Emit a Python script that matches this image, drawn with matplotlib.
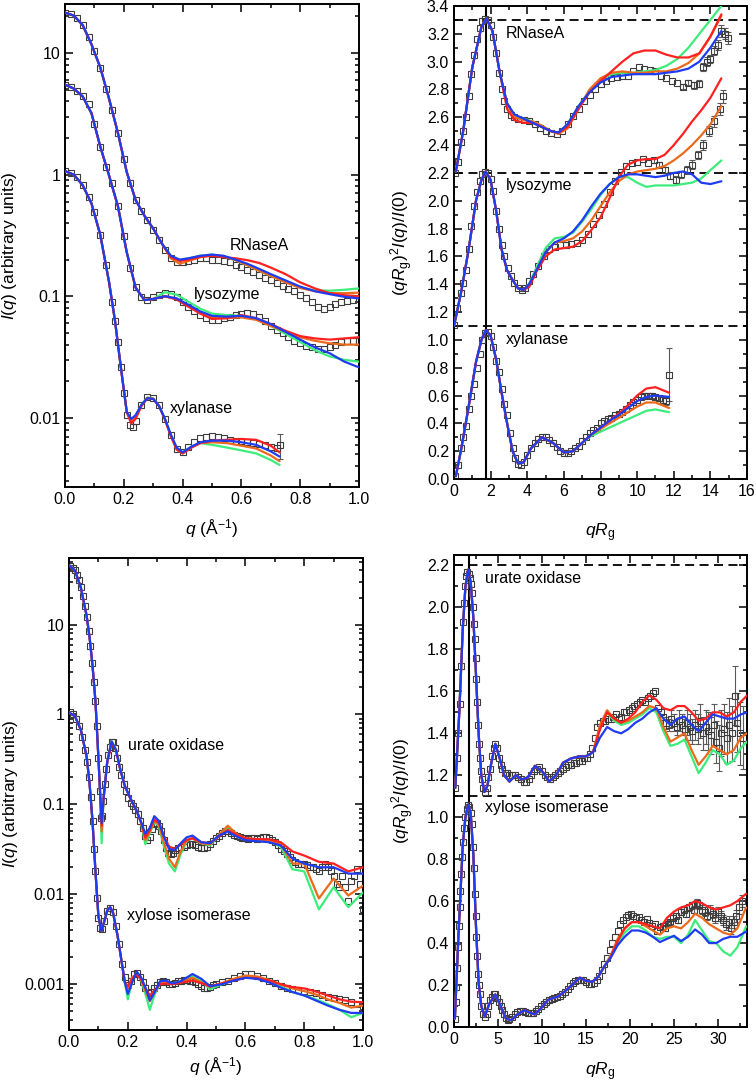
import numpy as np
import matplotlib
matplotlib.use('Agg')
import matplotlib.pyplot as plt
from matplotlib.ticker import MultipleLocator, LogLocator, NullFormatter, FuncFormatter

plt.rcParams['font.family'] = ['Liberation Sans', 'DejaVu Sans']
plt.rcParams['mathtext.fontset'] = 'custom'
plt.rcParams['mathtext.rm'] = 'Liberation Sans'
plt.rcParams['mathtext.it'] = 'Liberation Sans:italic'
plt.rcParams['mathtext.bf'] = 'Liberation Sans:bold'

COLORS = {'green': '#3dec7b', 'orange': '#ec6a1c', 'red': '#ff2020', 'blue': '#1f3cf2'}
ORDER = ['green', 'orange', 'red', 'blue']
DATA_EDGE = '#3c3c3c'

# ---------------- top left: I(q), RNaseA / lysozyme / xylanase ----------------
tl_q = [0.00, 0.02, 0.04, 0.06, 0.08, 0.10, 0.12, 0.14, 0.16, 0.18, 0.20, 0.22, 0.24,
        0.26, 0.28, 0.30, 0.32, 0.34, 0.36, 0.38, 0.40, 0.42, 0.44, 0.46, 0.48, 0.50,
        0.52, 0.54, 0.56, 0.58, 0.60, 0.62, 0.64, 0.66, 0.68, 0.70, 0.72, 0.74, 0.76,
        0.78, 0.80, 0.82, 0.84, 0.86, 0.88, 0.90, 0.92, 0.94, 0.96, 0.98, 1.00]
tl_rn_I = [21.5, 21.0, 19.5, 17.0, 13.5, 10.3, 7.6, 5.1, 3.4, 2.2, 1.35, 0.85, 0.62,
           0.50, 0.42, 0.35, 0.29, 0.24, 0.205, 0.19, 0.19, 0.195, 0.20, 0.205, 0.205, 0.20,
           0.20, 0.195, 0.19, 0.182, 0.175, 0.165, 0.158, 0.15, 0.142, 0.135, 0.128, 0.122, 0.115,
           0.11, 0.103, 0.096, 0.09, 0.082, 0.078, 0.082, 0.087, 0.09, 0.092, 0.094, 0.095]
tl_ly_I = [5.5, 5.3, 4.9, 4.4, 3.8, 2.6, 1.7, 1.15, 0.85, 0.55, 0.31, 0.17, 0.118,
           0.098, 0.094, 0.098, 0.103, 0.106, 0.105, 0.098, 0.09, 0.082, 0.076, 0.07, 0.066, 0.064,
           0.064, 0.066, 0.068, 0.07, 0.072, 0.073, 0.071, 0.067, 0.062, 0.057, 0.053, 0.05, 0.046,
           0.043, 0.041, 0.039, 0.038, 0.037, 0.037, 0.038, 0.04, 0.042, 0.043, 0.043, 0.043]
tl_xy_q = [0.00, 0.02, 0.04, 0.06, 0.08, 0.10, 0.12, 0.14, 0.16, 0.17, 0.18, 0.19, 0.20,
           0.21, 0.22, 0.23, 0.24, 0.26, 0.28, 0.30, 0.32, 0.34, 0.36, 0.38, 0.40, 0.42,
           0.44, 0.46, 0.48, 0.50, 0.52, 0.54, 0.56, 0.58, 0.60, 0.62, 0.64, 0.66, 0.68,
           0.70, 0.72, 0.73]
tl_xy_I = [1.07, 1.03, 0.95, 0.82, 0.66, 0.49, 0.32, 0.18, 0.09, 0.063, 0.042, 0.026, 0.016,
           0.0105, 0.0087, 0.0084, 0.0095, 0.0128, 0.0148, 0.0145, 0.0128, 0.0098, 0.0072, 0.0055,
           0.0052, 0.0058, 0.0063, 0.0068, 0.007, 0.0071, 0.007, 0.0068, 0.0066, 0.0065, 0.0064,
           0.0063, 0.0062, 0.0061, 0.006, 0.0058, 0.0056, 0.0060]
tl_xy_err_tail = [0.0014]

tl_rn_fq = [0, 0.03, 0.06, 0.09, 0.12, 0.15, 0.18, 0.21, 0.24, 0.27, 0.30, 0.33, 0.36, 0.39,
            0.42, 0.46, 0.50, 0.54, 0.58, 0.62, 0.66, 0.70, 0.75, 0.80, 0.85, 0.90, 0.95, 1.00]
tl_rn_head = [21.5, 20.3, 17.0, 11.8, 7.6, 4.2, 2.2, 1.05, 0.62, 0.46, 0.36, 0.27]
tl_rn_tail = {
    'blue': [0.215, 0.2, 0.205, 0.215, 0.22, 0.215, 0.20, 0.185, 0.168, 0.152, 0.135, 0.12, 0.11, 0.104, 0.099, 0.096],
    'red': [0.21, 0.195, 0.2, 0.21, 0.215, 0.21, 0.205, 0.198, 0.188, 0.172, 0.152, 0.13, 0.116, 0.106, 0.102, 0.10],
    'green': [0.215, 0.198, 0.205, 0.215, 0.22, 0.213, 0.198, 0.18, 0.162, 0.147, 0.132, 0.118, 0.112, 0.111, 0.113, 0.116],
    'orange': [0.205, 0.185, 0.195, 0.21, 0.218, 0.213, 0.198, 0.18, 0.162, 0.147, 0.13, 0.117, 0.11, 0.106, 0.106, 0.107],
}
tl_ly_fq = [0, 0.03, 0.06, 0.09, 0.12, 0.15, 0.18, 0.21, 0.24, 0.27, 0.30, 0.34, 0.38, 0.42,
            0.46, 0.50, 0.55, 0.60, 0.65, 0.70, 0.75, 0.80, 0.85, 0.90, 0.95, 1.00]
tl_ly_head = [5.5, 5.1, 4.4, 3.2, 1.7, 0.98, 0.55, 0.23, 0.118, 0.093, 0.095]
tl_ly_tail = {
    'blue': [0.10, 0.096, 0.085, 0.075, 0.069, 0.068, 0.069, 0.066, 0.059, 0.051, 0.044, 0.038, 0.034, 0.029, 0.026],
    'red': [0.10, 0.094, 0.082, 0.072, 0.065, 0.066, 0.07, 0.066, 0.059, 0.052, 0.047, 0.045, 0.044, 0.045, 0.046],
    'green': [0.108, 0.103, 0.09, 0.079, 0.072, 0.07, 0.069, 0.065, 0.057, 0.049, 0.042, 0.036, 0.032, 0.03, 0.029],
    'orange': [0.10, 0.095, 0.084, 0.074, 0.067, 0.066, 0.067, 0.064, 0.057, 0.051, 0.046, 0.043, 0.041, 0.04, 0.040],
}
tl_xy_fq = [0, 0.03, 0.06, 0.09, 0.12, 0.15, 0.17, 0.19, 0.21, 0.225, 0.24, 0.26, 0.28, 0.30,
            0.32, 0.34, 0.36, 0.38, 0.40, 0.43, 0.46, 0.50, 0.55, 0.60, 0.65, 0.70, 0.73]
tl_xy_head = [1.07, 1.0, 0.82, 0.58, 0.32, 0.13, 0.063, 0.026, 0.0112]
tl_xy_tail = {
    'blue': [0.0098, 0.0105, 0.0128, 0.0145, 0.0143, 0.0125, 0.0098, 0.0073, 0.0057, 0.0052, 0.0058, 0.0063, 0.0065, 0.0065, 0.0063, 0.006, 0.0053, 0.0048],
    'red': [0.009, 0.0098, 0.0125, 0.0145, 0.0143, 0.0125, 0.0097, 0.0071, 0.0055, 0.0051, 0.0057, 0.0062, 0.0065, 0.0066, 0.0067, 0.0066, 0.0059, 0.0052],
    'orange': [0.0094, 0.0102, 0.0127, 0.0146, 0.0144, 0.0125, 0.0097, 0.0071, 0.0055, 0.0051, 0.0057, 0.0062, 0.0063, 0.0062, 0.0059, 0.0056, 0.0049, 0.0044],
    'green': [0.0096, 0.0104, 0.0128, 0.0147, 0.0145, 0.0126, 0.0098, 0.0072, 0.0056, 0.0052, 0.0058, 0.0062, 0.006, 0.0057, 0.0054, 0.0051, 0.0045, 0.0041],
}

# ---------------- top right: Kratky, offsets 2.2 / 1.1 / 0 ----------------
tr_offsets = {'rn': 2.2, 'ly': 1.1, 'xy': 0.0}
tr_rn_x = [0.07, 0.2, 0.36, 0.5, 0.65, 0.8, 0.95, 1.1, 1.25, 1.4, 1.55, 1.7, 1.85, 2.0, 2.15, 2.3,
           2.45, 2.6, 2.75, 2.9, 3.1, 3.3, 3.5, 3.8, 4.1, 4.4, 4.7, 5.0, 5.3, 5.6, 5.9, 6.2, 6.5,
           6.8, 7.1, 7.4, 7.7, 8.0, 8.3, 8.6, 8.9, 9.2, 9.5, 9.8, 10.1, 10.4, 10.7, 11.0, 11.3,
           11.6, 11.9, 12.2, 12.5, 12.8, 13.1, 13.4, 13.6, 13.8, 14.0, 14.2, 14.4, 14.6, 14.8, 14.95]
tr_rn_y = [0.0, 0.08, 0.22, 0.3, 0.4, 0.55, 0.71, 0.85, 0.96, 1.04, 1.09, 1.11, 1.1, 1.06, 0.98, 0.86,
           0.72, 0.6, 0.52, 0.46, 0.42, 0.4, 0.39, 0.38, 0.37, 0.35, 0.32, 0.3, 0.29, 0.28, 0.3, 0.35, 0.41,
           0.46, 0.52, 0.56, 0.6, 0.64, 0.66, 0.68, 0.69, 0.70, 0.70, 0.73, 0.76, 0.75, 0.74, 0.73, 0.70,
           0.68, 0.66, 0.65, 0.62, 0.65, 0.63, 0.64, 0.76, 0.80, 0.82, 0.88, 0.92, 1.02, 1.0, 0.97]
tr_rn_err_tail = [0.02, 0.02, 0.025, 0.025, 0.03, 0.03, 0.03, 0.035, 0.035, 0.04, 0.04, 0.04]
tr_ly_x = [0.0, 0.18, 0.36, 0.5, 0.65, 0.8, 0.95, 1.1, 1.25, 1.4, 1.55, 1.71, 1.85, 2.0, 2.15, 2.3,
           2.45, 2.6, 2.75, 2.95, 3.1, 3.3, 3.5, 3.7, 3.9, 4.1, 4.3, 4.6, 4.9, 5.2, 5.5, 5.8, 6.1,
           6.4, 6.7, 7.0, 7.3, 7.6, 7.9, 8.2, 8.5, 8.8, 9.1, 9.4, 9.7, 10.0, 10.3, 10.6, 10.9, 11.2,
           11.5, 11.8, 12.1, 12.4, 12.7, 13.0, 13.3, 13.6, 13.9, 14.2, 14.5, 14.7]
tr_ly_y = [0.007, 0.127, 0.235, 0.31, 0.4, 0.55, 0.72, 0.86, 0.96, 1.04, 1.09, 1.11, 1.1, 1.06, 0.97, 0.83,
           0.7, 0.58, 0.5, 0.42, 0.36, 0.31, 0.27, 0.26, 0.27, 0.32, 0.37, 0.43, 0.5, 0.55, 0.57, 0.58, 0.58,
           0.59, 0.6, 0.62, 0.66, 0.73, 0.8, 0.88, 0.96, 1.04, 1.11, 1.15, 1.17, 1.18, 1.2, 1.17, 1.19, 1.16,
           1.12, 1.08, 1.05, 1.09, 1.12, 1.16, 1.23, 1.3, 1.4, 1.47, 1.56, 1.65]
tr_ly_err_tail = [0.02, 0.02, 0.02, 0.025, 0.025, 0.025, 0.03, 0.03, 0.03, 0.035, 0.035, 0.04, 0.04, 0.045]
tr_xy_x = [0.05, 0.2, 0.36, 0.5, 0.65, 0.8, 0.95, 1.1, 1.25, 1.4, 1.55, 1.7, 1.85, 2.0, 2.15, 2.3,
           2.45, 2.6, 2.75, 2.9, 3.05, 3.2, 3.35, 3.5, 3.65, 3.8, 4.0, 4.2, 4.4, 4.6, 4.8, 5.0, 5.2,
           5.4, 5.6, 5.8, 6.0, 6.2, 6.4, 6.6, 6.8, 7.0, 7.2, 7.4, 7.6, 7.8, 8.0, 8.2, 8.4, 8.6, 8.8,
           9.0, 9.2, 9.4, 9.6, 9.8, 10.0, 10.2, 10.4, 10.6, 10.8, 11.0, 11.2, 11.4, 11.6, 11.75]
tr_xy_y = [0.02, 0.1, 0.22, 0.3, 0.38, 0.5, 0.6, 0.68, 0.8, 0.9, 1.0, 1.05, 1.06, 1.03, 0.95, 0.85,
           0.77, 0.65, 0.54, 0.46, 0.33, 0.22, 0.15, 0.11, 0.1, 0.12, 0.17, 0.22, 0.26, 0.29, 0.3, 0.3, 0.28,
           0.26, 0.23, 0.2, 0.19, 0.19, 0.2, 0.22, 0.24, 0.27, 0.3, 0.33, 0.35, 0.37, 0.4, 0.42, 0.43, 0.44,
           0.46, 0.47, 0.48, 0.5, 0.53, 0.55, 0.57, 0.59, 0.6, 0.6, 0.6, 0.59, 0.58, 0.57, 0.56, 0.75]
tr_xy_err_tail = [0.015, 0.015, 0.02, 0.02, 0.02, 0.025, 0.03, 0.19]

tr_rn_fx = [0.1, 0.5, 1.0, 1.5, 1.77, 2.1, 2.5, 2.9, 3.3, 3.8, 4.3, 4.8, 5.3, 5.7, 6.2, 6.8, 7.4,
            8.0, 8.6, 9.2, 9.8, 10.4, 11.0, 11.6, 12.2, 12.8, 13.4, 14.0, 14.6]
tr_rn_head = [0.01, 0.3, 0.76, 1.05, 1.11, 1.02, 0.72]
tr_rn_tail = {
    'blue': [0.5, 0.42, 0.39, 0.36, 0.33, 0.30, 0.29, 0.35, 0.48, 0.58, 0.65, 0.69, 0.70, 0.71, 0.71, 0.71, 0.72, 0.73, 0.75, 0.8, 0.9, 1.02],
    'red': [0.46, 0.38, 0.36, 0.36, 0.33, 0.30, 0.29, 0.33, 0.46, 0.58, 0.66, 0.73, 0.80, 0.86, 0.88, 0.88, 0.85, 0.83, 0.83, 0.86, 0.98, 1.14],
    'green': [0.5, 0.41, 0.39, 0.37, 0.33, 0.30, 0.29, 0.35, 0.48, 0.59, 0.67, 0.71, 0.72, 0.72, 0.73, 0.74, 0.77, 0.82, 0.90, 1.0, 1.1, 1.2],
    'orange': [0.5, 0.40, 0.38, 0.37, 0.34, 0.30, 0.28, 0.32, 0.46, 0.60, 0.68, 0.72, 0.73, 0.72, 0.72, 0.73, 0.73, 0.75, 0.79, 0.86, 0.98, 1.13],
}
tr_ly_fx = [0, 0.4, 0.8, 1.2, 1.5, 1.73, 2.0, 2.3, 2.6, 2.9, 3.2, 3.5, 3.8, 4.1, 4.5, 5.0, 5.5, 6.0,
            6.5, 7.0, 7.5, 8.0, 8.5, 9.0, 9.5, 10.0, 10.5, 11.0, 11.5, 12.0, 12.5, 13.0, 13.5, 14.0, 14.6]
tr_ly_head = [0.0, 0.25, 0.55, 0.9, 1.05, 1.11, 1.05, 0.83, 0.55, 0.4, 0.33, 0.27, 0.26]
tr_ly_tail = {
    'blue': [0.3, 0.4, 0.53, 0.6, 0.63, 0.68, 0.76, 0.86, 0.95, 1.02, 1.07, 1.09, 1.09, 1.08, 1.07, 1.08, 1.1, 1.11, 1.09, 1.03, 1.02, 1.04],
    'green': [0.3, 0.42, 0.56, 0.63, 0.64, 0.67, 0.75, 0.84, 0.94, 1.02, 1.07, 1.07, 1.03, 1.0, 1.01, 1.01, 1.01, 1.02, 1.03, 1.06, 1.12, 1.19],
    'orange': [0.29, 0.4, 0.53, 0.6, 0.61, 0.63, 0.68, 0.76, 0.86, 0.96, 1.04, 1.09, 1.11, 1.12, 1.13, 1.15, 1.19, 1.24, 1.3, 1.37, 1.45, 1.58],
    'red': [0.28, 0.39, 0.5, 0.55, 0.56, 0.57, 0.61, 0.69, 0.78, 0.92, 1.07, 1.16, 1.19, 1.2, 1.2, 1.23, 1.3, 1.38, 1.47, 1.55, 1.64, 1.78],
}
tr_xy_fx = [0.1, 0.4, 0.8, 1.2, 1.5, 1.73, 2.0, 2.3, 2.6, 2.9, 3.2, 3.5, 3.8, 4.2, 4.8, 5.4, 6.0,
            6.5, 7.0, 7.5, 8.0, 8.5, 9.0, 9.5, 10.0, 10.5, 11.0, 11.75]
tr_xy_head = [0.02, 0.22, 0.52, 0.84, 1.0, 1.07, 1.03, 0.86, 0.62, 0.4, 0.2, 0.11, 0.12, 0.22, 0.3,
              0.26, 0.19, 0.2, 0.26]
tr_xy_tail = {
    'blue': [0.32, 0.37, 0.42, 0.46, 0.51, 0.56, 0.59, 0.6, 0.59],
    'red': [0.32, 0.37, 0.42, 0.47, 0.53, 0.6, 0.65, 0.66, 0.62],
    'orange': [0.32, 0.36, 0.4, 0.44, 0.48, 0.52, 0.55, 0.55, 0.51],
    'green': [0.31, 0.34, 0.37, 0.4, 0.43, 0.46, 0.49, 0.5, 0.48],
}

# ---------------- bottom left: I(q), urate oxidase / xylose isomerase ----------------
bl_uo_q = [0.005, 0.012, 0.019, 0.026, 0.033, 0.04, 0.047, 0.054, 0.061, 0.067, 0.073, 0.079, 0.085,
           0.09, 0.095, 0.1, 0.104, 0.108, 0.112, 0.116, 0.121, 0.127, 0.133, 0.139, 0.145, 0.151,
           0.157, 0.164, 0.171, 0.178, 0.186, 0.194, 0.202, 0.21, 0.218, 0.226, 0.234, 0.242, 0.25,
           0.258, 0.266, 0.274, 0.282, 0.29, 0.298, 0.306, 0.314, 0.322, 0.33, 0.338, 0.346, 0.354,
           0.362, 0.37, 0.38, 0.39, 0.40, 0.41, 0.42, 0.43, 0.44, 0.45, 0.46, 0.47, 0.48, 0.49, 0.50,
           0.51, 0.52, 0.53, 0.54, 0.55, 0.56, 0.57, 0.58, 0.59, 0.60, 0.61, 0.62, 0.63, 0.64, 0.65,
           0.66, 0.67, 0.68, 0.69, 0.70, 0.71, 0.72, 0.73, 0.74, 0.75, 0.76, 0.77, 0.78, 0.79, 0.80,
           0.81, 0.82, 0.83, 0.84, 0.85, 0.86, 0.87, 0.88, 0.89, 0.90, 0.91, 0.92, 0.93, 0.94, 0.95,
           0.96, 0.97, 0.98, 0.99, 1.00]
bl_uo_I = [45, 43, 40, 36, 31, 26, 21, 16, 12, 8.5, 5.8, 3.7, 2.3,
           1.4, 0.75, 0.33, 0.14, 0.07, 0.075, 0.11, 0.17, 0.25, 0.35, 0.44, 0.5, 0.49,
           0.42, 0.33, 0.26, 0.21, 0.17, 0.14, 0.118, 0.105, 0.095, 0.087, 0.078, 0.066, 0.054,
           0.044, 0.04, 0.043, 0.053, 0.06, 0.062, 0.058, 0.05, 0.04, 0.033, 0.029, 0.028, 0.029,
           0.031, 0.033, 0.034, 0.034, 0.035, 0.036, 0.036, 0.035, 0.034, 0.033, 0.033, 0.034, 0.036, 0.039, 0.042,
           0.045, 0.048, 0.05, 0.05, 0.048, 0.046, 0.044, 0.043, 0.042, 0.042, 0.041, 0.042, 0.042, 0.041, 0.042,
           0.043, 0.043, 0.042, 0.04, 0.038, 0.035, 0.032, 0.03, 0.028, 0.026, 0.024, 0.023, 0.022, 0.022, 0.022,
           0.021, 0.02, 0.02, 0.019, 0.018, 0.02, 0.022, 0.02, 0.018, 0.016, 0.013, 0.012, 0.016, 0.012, 0.0085,
           0.014, 0.016, 0.019, 0.013, 0.0068]
bl_xi_q = [0.005, 0.015, 0.025, 0.035, 0.045, 0.055, 0.062, 0.068, 0.074, 0.08, 0.086, 0.09, 0.095,
           0.1, 0.106, 0.112, 0.12, 0.13, 0.14, 0.15, 0.16, 0.17, 0.18, 0.19, 0.2, 0.21, 0.22, 0.23,
           0.24, 0.25, 0.26, 0.27, 0.28, 0.29, 0.30, 0.31, 0.32, 0.33, 0.34, 0.35, 0.36, 0.37, 0.38,
           0.39, 0.40, 0.41, 0.42, 0.43, 0.44, 0.45, 0.46, 0.47, 0.48, 0.49, 0.50, 0.52, 0.54, 0.56,
           0.58, 0.60, 0.62, 0.64, 0.66, 0.68, 0.70, 0.72, 0.74, 0.76, 0.78, 0.80, 0.82, 0.84, 0.86,
           0.88, 0.90, 0.92, 0.94, 0.96, 0.98, 1.00]
bl_xi_I = [1.06, 1.0, 0.9, 0.74, 0.56, 0.4, 0.3, 0.2, 0.12, 0.065, 0.032, 0.018, 0.009,
           0.0055, 0.0042, 0.0041, 0.005, 0.0065, 0.0071, 0.0063, 0.0045, 0.0028, 0.0017, 0.0012, 0.00098, 0.0011, 0.0013, 0.00135,
           0.0012, 0.00105, 0.0009, 0.0008, 0.00082, 0.0009, 0.00098, 0.00105, 0.0011, 0.00105, 0.001, 0.001, 0.00102, 0.00108, 0.0011,
           0.00112, 0.00112, 0.0011, 0.00108, 0.00105, 0.001, 0.00096, 0.00092, 0.00092, 0.00093, 0.00097, 0.001, 0.00105, 0.0011, 0.00118,
           0.00125, 0.0013, 0.0013, 0.00125, 0.00118, 0.0011, 0.00102, 0.00095, 0.0009, 0.00088, 0.00087, 0.00085, 0.00082, 0.0008, 0.00076,
           0.00073, 0.0007, 0.00068, 0.00066, 0.00063, 0.00061, 0.00058]

bl_uo_fq = [0.0, 0.02, 0.04, 0.06, 0.07, 0.08, 0.09, 0.1, 0.106, 0.111, 0.118, 0.13, 0.145, 0.16,
            0.175, 0.19, 0.21, 0.23, 0.245, 0.26, 0.275, 0.29, 0.305, 0.32, 0.34, 0.36, 0.38, 0.40,
            0.42, 0.45, 0.48, 0.51, 0.54, 0.57, 0.60, 0.64, 0.68, 0.72, 0.76, 0.80, 0.85, 0.90, 0.95, 1.0]
bl_uo_head = [46, 40, 26, 12.5, 7.2, 3.5, 1.4, 0.33, 0.13]
bl_uo_tail = {
    'blue': [0.062, 0.12, 0.3, 0.5, 0.4, 0.24, 0.16, 0.115, 0.085, 0.064, 0.047, 0.055, 0.074, 0.066, 0.046, 0.032, 0.031, 0.037,
             0.043, 0.045, 0.038, 0.037, 0.045, 0.05, 0.044, 0.04, 0.039, 0.038, 0.035, 0.025, 0.022, 0.02, 0.02, 0.017, 0.017],
    'red': [0.058, 0.12, 0.29, 0.48, 0.4, 0.24, 0.16, 0.113, 0.085, 0.063, 0.043, 0.052, 0.068, 0.063, 0.047, 0.034, 0.032, 0.036,
            0.04, 0.042, 0.038, 0.037, 0.044, 0.052, 0.046, 0.042, 0.041, 0.041, 0.038, 0.03, 0.027, 0.023, 0.022, 0.018, 0.02],
    'orange': [0.05, 0.12, 0.3, 0.5, 0.4, 0.24, 0.16, 0.115, 0.085, 0.063, 0.04, 0.05, 0.065, 0.06, 0.04, 0.025, 0.02, 0.03,
               0.04, 0.042, 0.037, 0.036, 0.046, 0.058, 0.047, 0.042, 0.041, 0.04, 0.036, 0.022, 0.022, 0.009, 0.015, 0.0097, 0.0125],
    'green': [0.037, 0.12, 0.3, 0.51, 0.41, 0.24, 0.16, 0.115, 0.085, 0.063, 0.036, 0.048, 0.063, 0.058, 0.037, 0.022, 0.018, 0.028,
              0.039, 0.042, 0.037, 0.035, 0.045, 0.056, 0.046, 0.041, 0.04, 0.039, 0.034, 0.019, 0.018, 0.0068, 0.012, 0.0072, 0.0105],
}
bl_xi_fq = [0, 0.02, 0.04, 0.06, 0.07, 0.08, 0.09, 0.1, 0.11, 0.12, 0.13, 0.14, 0.15, 0.165, 0.18, 0.19,
            0.2, 0.215, 0.23, 0.245, 0.26, 0.275, 0.29, 0.31, 0.33, 0.35, 0.38, 0.42, 0.45, 0.48, 0.52,
            0.56, 0.60, 0.64, 0.68, 0.72, 0.76, 0.80, 0.84, 0.88, 0.92, 0.96, 1.0]
bl_xi_head = [1.05, 0.96, 0.68, 0.34, 0.17, 0.065, 0.018, 0.0057, 0.0039, 0.005, 0.0066, 0.0072, 0.0062,
              0.0035, 0.0017, 0.00105]
bl_xi_tail = {
    'blue': [0.00078, 0.00105, 0.00138, 0.0012, 0.00092, 0.00066, 0.0008, 0.00108, 0.0011, 0.00102, 0.00108, 0.0013, 0.00115, 0.00095,
             0.001, 0.0011, 0.00118, 0.00115, 0.00105, 0.00092, 0.00082, 0.00075, 0.00066, 0.00058, 0.00052, 0.00048, 0.00048],
    'red': [0.00095, 0.00115, 0.0013, 0.00115, 0.0009, 0.00075, 0.00085, 0.001, 0.00102, 0.001, 0.00104, 0.0011, 0.00103, 0.00095,
            0.00102, 0.0011, 0.00118, 0.00117, 0.0011, 0.001, 0.00093, 0.0009, 0.00083, 0.00075, 0.00068, 0.00064, 0.00063],
    'orange': [0.0009, 0.0012, 0.0013, 0.00112, 0.00085, 0.00065, 0.0008, 0.00103, 0.00105, 0.001, 0.00106, 0.00118, 0.00105, 0.00093,
               0.00103, 0.00115, 0.00125, 0.00122, 0.00112, 0.001, 0.0009, 0.00084, 0.00077, 0.00068, 0.00062, 0.00055, 0.00058],
    'green': [0.00068, 0.0011, 0.00135, 0.00112, 0.00078, 0.00052, 0.00075, 0.00105, 0.00108, 0.00102, 0.00108, 0.00125, 0.0011, 0.00088,
              0.001, 0.00112, 0.0012, 0.00118, 0.00108, 0.00095, 0.00082, 0.00075, 0.00068, 0.0006, 0.00052, 0.00043, 0.00048],
}

# ---------------- bottom right: Kratky, offsets 1.1 / 0 ----------------
br_offsets = {'uo': 1.1, 'xi': 0.0}
br_uo_x = [0.15, 0.3, 0.45, 0.64, 0.83, 1.02, 1.15, 1.29, 1.4, 1.52, 1.65, 1.77, 1.89, 2.0, 2.16, 2.26,
           2.35, 2.45, 2.54, 2.63, 2.73, 2.82, 2.92, 3.05, 3.18, 3.33, 3.48, 3.7, 3.9, 4.05, 4.3, 4.5,
           4.7, 4.9, 5.1, 5.3, 5.5, 5.76, 6.0, 6.3, 6.6, 6.9, 7.27, 7.6, 7.9, 8.2, 8.5, 8.8, 9.1, 9.4,
           9.7, 10.0, 10.3, 10.6, 10.9, 11.2, 11.5, 11.8, 12.1, 12.4, 12.7, 13.0, 13.3, 13.6, 13.9, 14.2,
           14.5, 14.8, 15.1, 15.4, 15.7, 16.0, 16.3, 16.6, 16.9, 17.2, 17.5, 17.8, 18.1, 18.4, 18.7, 19.0,
           19.3, 19.6, 19.9, 20.2, 20.5, 20.8, 21.1, 21.4, 21.7, 22.0, 22.3, 22.6, 22.9, 23.2, 23.5, 23.8,
           24.1, 24.4, 24.7, 25.0, 25.3, 25.6, 25.9, 26.2, 26.5, 26.8, 27.1, 27.4, 27.7, 28.0, 28.3, 28.6,
           28.9, 29.2, 29.5, 29.8, 30.1, 30.4, 30.7, 31.0, 31.3, 31.6, 31.9, 32.2, 32.5, 32.8]
br_uo_y = [0.04, 0.18, 0.3, 0.44, 0.62, 0.83, 0.92, 1.0, 1.05, 1.07, 1.06, 1.04, 1.01, 0.97, 0.9, 0.82,
           0.75, 0.66, 0.56, 0.45, 0.34, 0.25, 0.18, 0.12, 0.08, 0.04, 0.02, 0.04, 0.09, 0.13, 0.19, 0.23,
           0.25, 0.23, 0.18, 0.15, 0.13, 0.11, 0.11, 0.1, 0.1, 0.1, 0.09, 0.08, 0.07, 0.07, 0.08, 0.1, 0.12, 0.13,
           0.14, 0.12, 0.1, 0.09, 0.08, 0.09, 0.1, 0.11, 0.12, 0.13, 0.14, 0.15, 0.15, 0.16, 0.16, 0.17,
           0.17, 0.18, 0.18, 0.2, 0.23, 0.28, 0.33, 0.35, 0.36, 0.36, 0.37, 0.37, 0.38, 0.39, 0.37, 0.38,
           0.4, 0.4, 0.41, 0.42, 0.43, 0.44, 0.45, 0.46, 0.45, 0.47, 0.48, 0.49, 0.5, 0.42, 0.4, 0.38,
           0.35, 0.34, 0.37, 0.35, 0.33, 0.36, 0.34, 0.32, 0.35, 0.33, 0.31, 0.34, 0.32, 0.36, 0.3, 0.33,
           0.31, 0.29, 0.34, 0.26, 0.23, 0.3, 0.32, 0.28, 0.34, 0.3, 0.48, 0.35, 0.3, 0.28]
br_uo_err_tail = [0.03, 0.03, 0.04, 0.04, 0.04, 0.05, 0.05, 0.05, 0.06, 0.06, 0.06, 0.07, 0.07, 0.08, 0.08,
                  0.08, 0.09, 0.09, 0.1, 0.1, 0.11, 0.11, 0.12, 0.12, 0.13, 0.13, 0.14, 0.14, 0.15, 0.15]
br_xi_x = [0.08, 0.18, 0.27, 0.36, 0.45, 0.55, 0.64, 0.73, 0.83, 0.92, 1.02, 1.15, 1.29, 1.45, 1.59, 1.75,
           1.89, 2.0, 2.16, 2.25, 2.35, 2.45, 2.54, 2.63, 2.73, 2.82, 2.92, 3.1, 3.3, 3.5, 3.7, 3.9, 4.1,
           4.3, 4.5, 4.7, 4.9, 5.1, 5.3, 5.5, 5.7, 5.9, 6.1, 6.3, 6.6, 6.9, 7.2, 7.5, 7.8, 8.1, 8.4, 8.7,
           9.0, 9.3, 9.6, 9.9, 10.2, 10.5, 10.8, 11.1, 11.4, 11.7, 12.0, 12.3, 12.6, 12.9, 13.2, 13.5, 13.8,
           14.1, 14.4, 14.7, 15.0, 15.3, 15.6, 15.9, 16.2, 16.5, 16.8, 17.1, 17.4, 17.7, 18.0, 18.3, 18.6,
           18.9, 19.2, 19.5, 19.8, 20.1, 20.4, 20.7, 21.0, 21.3, 21.6, 21.9, 22.2, 22.5, 22.8, 23.1, 23.4,
           23.7, 24.0, 24.3, 24.6, 24.9, 25.2, 25.5, 25.8, 26.1, 26.4, 26.7, 27.0, 27.3, 27.6, 27.9, 28.2,
           28.5, 28.8, 29.1, 29.4, 29.7, 30.0, 30.3, 30.6, 30.9, 31.2, 31.5, 31.8, 32.1, 32.4, 32.7]
br_xi_y = [0.04, 0.12, 0.19, 0.28, 0.38, 0.48, 0.57, 0.65, 0.73, 0.81, 0.88, 0.95, 1.0, 1.04, 1.056, 1.05,
           1.02, 0.97, 0.86, 0.76, 0.635, 0.53, 0.43, 0.34, 0.254, 0.2, 0.159, 0.1, 0.064, 0.05, 0.06, 0.1, 0.13,
           0.145, 0.155, 0.155, 0.14, 0.12, 0.1, 0.08, 0.06, 0.045, 0.035, 0.04, 0.05, 0.06, 0.07, 0.075, 0.075, 0.072, 0.068, 0.065,
           0.068, 0.075, 0.088, 0.1, 0.11, 0.12, 0.128, 0.132, 0.138, 0.143, 0.148, 0.155, 0.165, 0.18, 0.195, 0.21, 0.22,
           0.225, 0.225, 0.222, 0.215, 0.205, 0.205, 0.21, 0.225, 0.245, 0.27, 0.3, 0.33, 0.365, 0.4, 0.43, 0.46,
           0.49, 0.51, 0.525, 0.535, 0.54, 0.53, 0.52, 0.525, 0.51, 0.5, 0.515, 0.495, 0.48, 0.49, 0.46, 0.475,
           0.48, 0.47, 0.49, 0.5, 0.52, 0.53, 0.51, 0.55, 0.56, 0.54, 0.57, 0.58, 0.56, 0.59, 0.58, 0.56,
           0.55, 0.53, 0.56, 0.54, 0.52, 0.55, 0.53, 0.51, 0.49, 0.5, 0.47, 0.5, 0.53, 0.57, 0.6]
br_xi_err_tail = [0.01, 0.01, 0.01, 0.012, 0.012, 0.012, 0.014, 0.014, 0.015, 0.015, 0.016, 0.016, 0.018, 0.018, 0.02,
                  0.02, 0.02, 0.022, 0.022, 0.024, 0.024, 0.025, 0.025, 0.026, 0.027, 0.028, 0.028, 0.03, 0.03, 0.03]

br_uo_fx = [0.15, 0.6, 1.0, 1.3, 1.6, 1.9, 2.2, 2.5, 2.8, 3.1, 3.45, 3.8, 4.2, 4.7, 5.2, 5.7, 6.3, 7.0,
            7.7, 8.4, 9.2, 10.0, 10.8, 11.6, 12.4, 13.3, 14.2, 15.0, 15.8, 16.6, 17.4, 18.2, 19.0, 19.8,
            20.6, 21.4, 22.2, 23.0, 23.8, 24.6, 25.4, 26.2, 27.0, 27.8, 28.6, 29.4, 30.2, 31.0, 31.8, 32.6, 33.3]
br_uo_head = [0.04, 0.4, 0.8, 1.0, 1.08, 1.02, 0.85, 0.58, 0.3, 0.1, 0.02, 0.05, 0.15, 0.25, 0.18, 0.1, 0.07,
              0.1, 0.08, 0.09, 0.145, 0.12, 0.07, 0.1, 0.16, 0.18, 0.19, 0.19, 0.21]
br_uo_tail = {
    'blue': [0.28, 0.33, 0.31, 0.3, 0.32, 0.35, 0.37, 0.4, 0.42, 0.37, 0.34, 0.37, 0.38, 0.34, 0.31, 0.35, 0.39, 0.38, 0.37, 0.37, 0.39, 0.40],
    'red': [0.32, 0.4, 0.37, 0.35, 0.37, 0.4, 0.45, 0.48, 0.46, 0.42, 0.41, 0.43, 0.43, 0.4, 0.36, 0.37, 0.4, 0.4, 0.38, 0.4, 0.45, 0.48],
    'orange': [0.34, 0.41, 0.37, 0.35, 0.36, 0.38, 0.4, 0.43, 0.42, 0.33, 0.26, 0.28, 0.3, 0.22, 0.15, 0.19, 0.24, 0.22, 0.2, 0.22, 0.28, 0.3],
    'green': [0.33, 0.4, 0.36, 0.34, 0.35, 0.37, 0.39, 0.42, 0.4, 0.31, 0.24, 0.25, 0.27, 0.19, 0.11, 0.16, 0.22, 0.2, 0.15, 0.17, 0.23, 0.26],
}
br_xi_fx = [0.1, 0.5, 1.0, 1.3, 1.6, 1.9, 2.2, 2.5, 2.8, 3.1, 3.5, 4.0, 4.7, 5.3, 5.9, 6.5, 7.2, 8.0, 8.6,
            9.2, 9.9, 10.7, 11.8, 12.6, 13.4, 14.3, 15.0, 15.7, 16.4, 17.1, 17.8, 18.6, 19.4, 20.2, 21.0,
            21.8, 22.6, 23.4, 24.2, 25.0, 25.8, 26.6, 27.4, 28.2, 29.0, 29.8, 30.6, 31.4, 32.2, 33.2]
br_xi_head = [0.04, 0.43, 0.87, 1.0, 1.06, 1.02, 0.82, 0.48, 0.21, 0.1, 0.05, 0.11, 0.155, 0.1, 0.04, 0.032,
              0.06, 0.08, 0.068, 0.06, 0.09, 0.13, 0.145, 0.17, 0.2, 0.235, 0.22, 0.215, 0.24, 0.29]
br_xi_tail = {
    'blue': [0.33, 0.39, 0.43, 0.46, 0.46, 0.45, 0.43, 0.405, 0.42, 0.435, 0.41, 0.43, 0.465, 0.44, 0.40, 0.40, 0.42, 0.43, 0.43, 0.455],
    'green': [0.34, 0.40, 0.45, 0.48, 0.48, 0.46, 0.43, 0.42, 0.43, 0.43, 0.40, 0.44, 0.51, 0.46, 0.41, 0.40, 0.36, 0.34, 0.38, 0.48],
    'orange': [0.34, 0.42, 0.47, 0.50, 0.50, 0.48, 0.46, 0.44, 0.47, 0.48, 0.47, 0.5, 0.54, 0.52, 0.49, 0.47, 0.45, 0.44, 0.47, 0.57],
    'red': [0.33, 0.41, 0.47, 0.50, 0.50, 0.49, 0.48, 0.47, 0.52, 0.55, 0.57, 0.58, 0.6, 0.59, 0.57, 0.56, 0.57, 0.58, 0.6, 0.635],
}

GUINIER_PEAK = np.sqrt(3.0)
FS = 11.5


def draw_data(ax, x, y, err_tail=None, offset=0.0):
    '''open squares with error bars on the last points'''
    x = np.asarray(x)
    y = np.asarray(y) + offset
    if err_tail:
        n = len(err_tail)
        ax.errorbar(x[-n:], y[-n:], yerr=err_tail, fmt='none', ecolor='#5a5a5a',
                    elinewidth=0.8, capsize=2, capthick=0.8, zorder=2)
    ax.plot(x, y, ls='none', marker='s', ms=5, mfc='none', mec=DATA_EDGE, mew=0.8, zorder=2.5)


def draw_fits(ax, x, head, tails, offset=0.0):
    for i, name in enumerate(ORDER):
        y = np.asarray(head + tails[name]) + offset
        ax.plot(x, y, color=COLORS[name], lw=1.6, zorder=3 + i, solid_capstyle='round')


def style_axes(ax):
    for sp in ax.spines.values():
        sp.set_linewidth(1.4)
    ax.tick_params(which='both', direction='in', top=True, right=True, width=1.1, labelsize=FS)
    ax.tick_params(which='major', length=6)
    ax.tick_params(which='minor', length=3)


def log_axis(ax):
    ax.set_yscale('log')
    ax.yaxis.set_major_locator(LogLocator(base=10, numticks=12))
    ax.yaxis.set_minor_locator(LogLocator(base=10, subs=np.arange(2, 10), numticks=12))
    ax.yaxis.set_minor_formatter(NullFormatter())
    ax.yaxis.set_major_formatter(FuncFormatter(lambda v, p: '%g' % v))


W, H = 756, 1085
fig = plt.figure(figsize=(W / 100, H / 100), dpi=100)


def px_axes(left, right, top, bottom):
    return fig.add_axes([left / W, 1 - bottom / H, (right - left) / W, (bottom - top) / H])


# --- top left
ax = px_axes(65, 359, 4, 487)
log_axis(ax)
draw_data(ax, tl_q, tl_rn_I)
draw_data(ax, tl_q, tl_ly_I)
draw_data(ax, tl_xy_q, tl_xy_I, tl_xy_err_tail)
draw_fits(ax, tl_rn_fq, tl_rn_head, tl_rn_tail)
draw_fits(ax, tl_ly_fq, tl_ly_head, tl_ly_tail)
draw_fits(ax, tl_xy_fq, tl_xy_head, tl_xy_tail)
ax.set_xlim(0, 1.0)
ax.set_ylim(0.0027, 25.3)
ax.xaxis.set_major_locator(MultipleLocator(0.2))
ax.xaxis.set_minor_locator(MultipleLocator(0.1))
ax.xaxis.set_major_formatter(FuncFormatter(lambda v, p: '%.1f' % v))
ax.text(0.56, 0.26, 'RNaseA', fontsize=FS, va='center')
ax.text(0.44, 0.104, 'lysozyme', fontsize=FS, va='center')
ax.text(0.357, 0.012, 'xylanase', fontsize=FS, va='center')
ax.set_xlabel(r'$q$ (Å$^{-1}$)', fontsize=12.5)
ax.set_ylabel(r'$I$($q$) (arbitrary units)', fontsize=12.5)
ax.xaxis.set_label_coords(0.5, -0.062)
ax.yaxis.set_label_coords(-0.155, 0.5)
style_axes(ax)

# --- top right
ax = px_axes(454, 747, 6, 479)
for lev in (1.1, 2.2, 3.3):
    ax.axhline(lev, color='black', lw=1.3, ls=(0, (5, 3)), zorder=1)
ax.axvline(GUINIER_PEAK, color='black', lw=1.5, zorder=1)
draw_data(ax, tr_rn_x, tr_rn_y, tr_rn_err_tail, tr_offsets['rn'])
draw_data(ax, tr_ly_x, tr_ly_y, tr_ly_err_tail, tr_offsets['ly'])
draw_data(ax, tr_xy_x, tr_xy_y, tr_xy_err_tail, tr_offsets['xy'])
draw_fits(ax, tr_rn_fx, tr_rn_head, tr_rn_tail, tr_offsets['rn'])
draw_fits(ax, tr_ly_fx, tr_ly_head, tr_ly_tail, tr_offsets['ly'])
draw_fits(ax, tr_xy_fx, tr_xy_head, tr_xy_tail, tr_offsets['xy'])
ax.set_xlim(0, 16)
ax.set_ylim(0, 3.4)
ax.xaxis.set_major_locator(MultipleLocator(2))
ax.xaxis.set_minor_locator(MultipleLocator(1))
ax.yaxis.set_major_locator(MultipleLocator(0.2))
ax.yaxis.set_minor_locator(MultipleLocator(0.1))
ax.yaxis.set_major_formatter(FuncFormatter(lambda v, p: '%.1f' % v))
ax.text(2.82, 3.20, 'RNaseA', fontsize=FS, va='center')
ax.text(2.82, 2.11, 'lysozyme', fontsize=FS, va='center')
ax.text(2.82, 1.0, 'xylanase', fontsize=FS, va='center')
ax.set_xlabel(r'$qR_\mathrm{g}$', fontsize=12.5)
ax.set_ylabel(r'$(qR_\mathrm{g})^2I(q)/I(0)$', fontsize=12.5)
ax.xaxis.set_label_coords(0.5, -0.09)
ax.yaxis.set_label_coords(-0.133, 0.5)
style_axes(ax)

# --- bottom left
ax = px_axes(69, 363, 558, 1030)
log_axis(ax)
draw_data(ax, bl_uo_q, bl_uo_I)
draw_data(ax, bl_xi_q, bl_xi_I)
draw_fits(ax, bl_uo_fq, bl_uo_head, bl_uo_tail)
draw_fits(ax, bl_xi_fq, bl_xi_head, bl_xi_tail)
ax.set_xlim(0, 1.0)
ax.set_ylim(0.00031, 55)
ax.xaxis.set_major_locator(MultipleLocator(0.2))
ax.xaxis.set_minor_locator(MultipleLocator(0.1))
ax.xaxis.set_major_formatter(FuncFormatter(lambda v, p: '%.1f' % v))
ax.text(0.201, 0.45, 'urate oxidase', fontsize=FS, va='center')
ax.text(0.196, 0.0058, 'xylose isomerase', fontsize=FS, va='center')
ax.set_xlabel(r'$q$ (Å$^{-1}$)', fontsize=12.5)
ax.set_ylabel(r'$I$($q$) (arbitrary units)', fontsize=12.5)
ax.xaxis.set_label_coords(0.5, -0.054)
ax.yaxis.set_label_coords(-0.167, 0.5)
style_axes(ax)

# --- bottom right
ax = px_axes(454, 747, 555, 1027)
for lev in (1.1, 2.2):
    ax.axhline(lev, color='black', lw=1.3, ls=(0, (5, 3)), zorder=1)
ax.axvline(GUINIER_PEAK, color='black', lw=1.5, zorder=1)
draw_data(ax, br_uo_x, br_uo_y, br_uo_err_tail, br_offsets['uo'])
draw_data(ax, br_xi_x, br_xi_y, br_xi_err_tail, br_offsets['xi'])
draw_fits(ax, br_uo_fx, br_uo_head, br_uo_tail, br_offsets['uo'])
draw_fits(ax, br_xi_fx, br_xi_head, br_xi_tail, br_offsets['xi'])
ax.set_xlim(0, 33.3)
ax.set_ylim(0, 2.25)
ax.xaxis.set_major_locator(MultipleLocator(5))
ax.xaxis.set_minor_locator(MultipleLocator(2.5))
ax.yaxis.set_major_locator(MultipleLocator(0.2))
ax.yaxis.set_minor_locator(MultipleLocator(0.1))
ax.yaxis.set_major_formatter(FuncFormatter(lambda v, p: '%.1f' % v))
ax.text(3.49, 2.136, 'urate oxidase', fontsize=FS, va='center')
ax.text(3.49, 1.045, 'xylose isomerase', fontsize=FS, va='center')
ax.set_xlabel(r'$qR_\mathrm{g}$', fontsize=12.5)
ax.set_ylabel(r'$(qR_\mathrm{g})^2I(q)/I(0)$', fontsize=12.5)
ax.xaxis.set_label_coords(0.5, -0.07)
ax.yaxis.set_label_coords(-0.13, 0.5)
style_axes(ax)

fig.savefig('out.png', dpi=100)
